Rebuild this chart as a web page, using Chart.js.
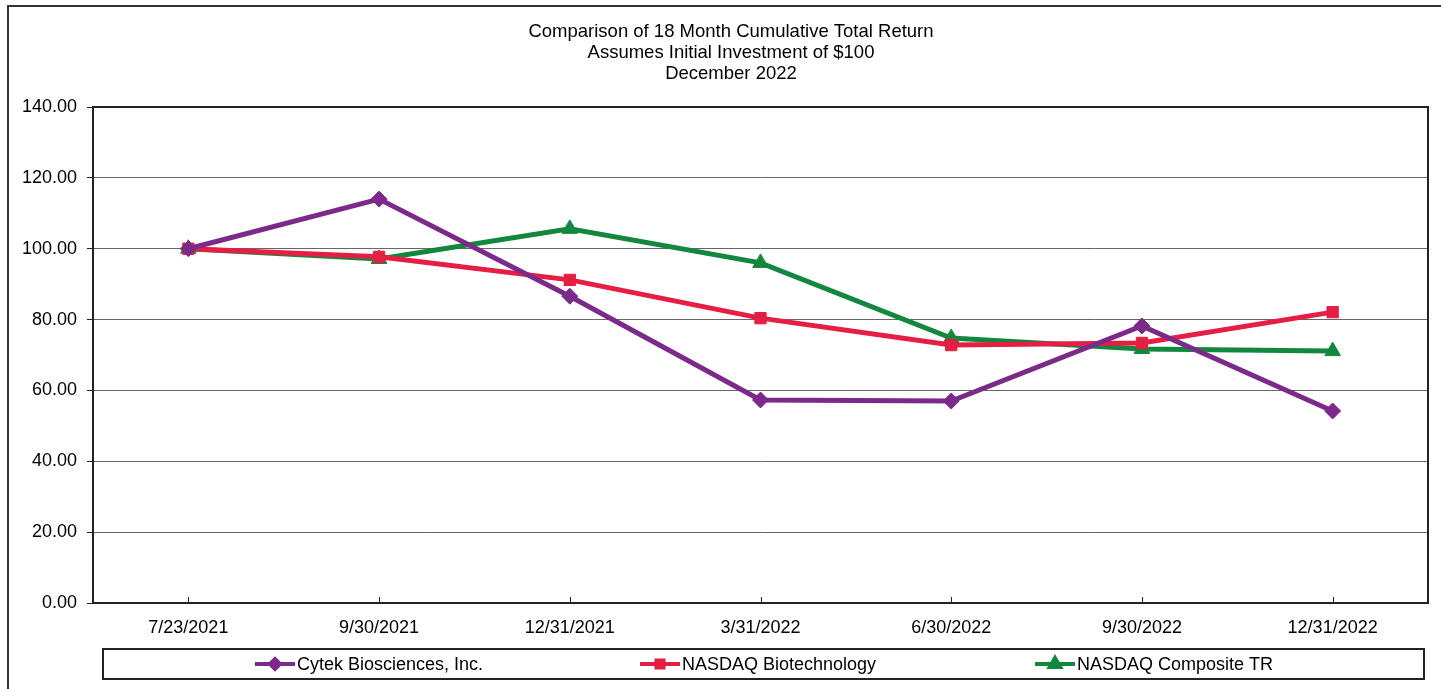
<!DOCTYPE html>
<html><head><meta charset="utf-8">
<script src="https://cdn.jsdelivr.net/npm/chart.js@4"></script>
<style>html,body{margin:0;padding:0;background:#fff}#wrap{width:1441px;height:689px;position:relative}</style>
</head><body><div id="wrap"><canvas id="c" width="1441" height="689"></canvas></div>
<script>
const titleLines = ["Comparison of 18 Month Cumulative Total Return","Assumes Initial Investment of $100","December 2022"];
const categories = ["7/23/2021","9/30/2021","12/31/2021","3/31/2022","6/30/2022","9/30/2022","12/31/2022"];
const cytek = [100.00,114.00,86.60,57.30,57.00,78.20,54.20];
const nasdaqBio = [100.00,97.70,91.20,80.40,72.80,73.40,82.10];
const nasdaqComp = [100.00,97.10,105.60,96.00,74.80,71.70,71.10];
const seriesNames = ["Cytek Biosciences, Inc.","NASDAQ Biotechnology","NASDAQ Composite TR"];
const yTicks = [0,20,40,60,80,100,120,140];

const FONT = "'Liberation Sans', Arial, sans-serif";
const colors = ["#7B2A8A","#E51E43","#14873F"];
const styles = ["rectRot","rect","triangle"];
const radii = [8,8,9];

const deco = {
  id:'deco',
  afterLayout(chart){
    if (chart.titleBlock){ chart.titleBlock.left = 34; chart.titleBlock.right = 1428; }
  },
  afterDraw(chart){
    const ctx = chart.ctx, a = chart.chartArea, x = chart.scales.x;
    ctx.save();
    ctx.strokeStyle = '#333'; ctx.lineWidth = 2;
    ctx.strokeRect(8,6,1450,700);
    ctx.strokeStyle = '#222'; ctx.lineWidth = 2;
    ctx.strokeRect(a.left,a.top,a.right-a.left,a.bottom-a.top);
    ctx.lineWidth = 1;
    categories.forEach((c,i)=>{
      const px = Math.round(x.getPixelForValue(i))+0.5;
      ctx.beginPath(); ctx.moveTo(px,a.bottom); ctx.lineTo(px,a.bottom-6); ctx.stroke();
    });
    ctx.lineWidth = 2; ctx.strokeStyle='#222';
    ctx.strokeRect(103,649,1321,30);
    const lx = [255,640,1035], ly = 664;
    ctx.font = "18px " + FONT; ctx.textBaseline='middle'; ctx.fillStyle='#000';
    chart.data.datasets.forEach((ds,i)=>{
      ctx.strokeStyle = ds.borderColor; ctx.lineWidth = 4;
      ctx.beginPath(); ctx.moveTo(lx[i],ly); ctx.lineTo(lx[i]+40,ly); ctx.stroke();
      ctx.fillStyle = ds.borderColor;
      Chart.helpers.drawPoint(ctx,{pointStyle:ds.pointStyle,radius:i===2?6:5,borderWidth:1},lx[i]+20,ly);
      ctx.fillStyle='#000';
      ctx.fillText(ds.label, lx[i]+42, ly+1);
    });
    ctx.restore();
  }
};

const datasets = [cytek,nasdaqBio,nasdaqComp].map((d,i)=>({
  label: seriesNames[i], data: d, borderColor: colors[i], backgroundColor: colors[i],
  borderWidth: 5, pointStyle: styles[i], pointRadius: radii[i], pointBorderWidth: 1,
  pointBackgroundColor: colors[i], pointBorderColor: colors[i], tension: 0, clip: false
}));

new Chart(document.getElementById('c'),{
  type:'line',
  data:{labels:categories, datasets},
  options:{
    responsive:false, animation:false, devicePixelRatio:1,
    layout:{padding:{left:0,right:13,top:0,bottom:0}},
    plugins:{
      legend:{display:false}, tooltip:{enabled:false},
      title:{display:true, text:titleLines, color:'#000', font:{family:FONT,size:18.5,weight:'normal',lineHeight:'21px'}, padding:{top:21,bottom:23}}
    },
    scales:{
      x:{offset:true, grid:{display:false, drawTicks:false}, border:{display:false},
         ticks:{color:'#000', font:{family:FONT,size:18}, padding:14, maxRotation:0, autoSkip:false},
         afterFit(s){ s.height = 86; }},
      y:{min:0,max:140, afterBuildTicks(s){ s.ticks = yTicks.map(v=>({value:v})); },
         grid:{color:'#666', lineWidth:1, tickLength:6, tickColor:'#222'}, border:{display:false},
         ticks:{color:'#000', font:{family:FONT,size:18}, padding:10, callback:v=>Number(v).toFixed(2)},
         afterFit(s){ s.width = 93; }}
    }
  },
  plugins:[deco]
});
</script></body></html>
